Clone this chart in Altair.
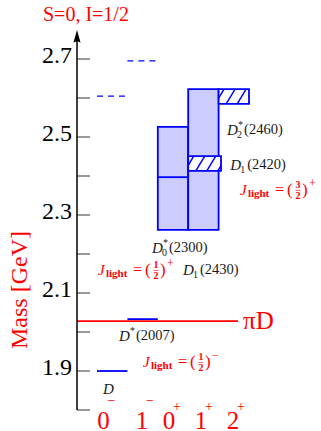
import altair as alt
import pandas as pd

# ---------------- data ----------------
spin = ["0", "1", "0", "1", "2"]
parity = ["\u2212", "\u2212", "+", "+", "+"]
spin_pos = [0.21, 1.48, 2.37, 3.42, 4.47]

mass_ticks = [1.8, 1.9, 2.0, 2.1, 2.2, 2.3, 2.4, 2.5, 2.6, 2.7]
mass_labels = ["1.9", "2.1", "2.3", "2.5", "2.7"]

band_col = [2, 3]
band_lo = [2.262, 2.262]
band_hi = [2.526, 2.623]

hatch_c0 = [3.0, 4.0]
hatch_c1 = [4.08, 5.0]
hatch_lo = [2.413, 2.585]
hatch_hi = [2.451, 2.623]

level_col = [0, 1, 2]
level_mass = [1.900, 2.033, 2.397]

dash_col = [0, 1]
dash_mass = [2.605, 2.695]

thr_mass = 2.028
thr_end = 4.64
thr_label = "\u03c0D"

name_main = ["D", "D", "D", "D", "D", "D"]
name_sup = ["", "*", "*", "", "*", ""]
name_sub = ["", "", "0", "1", "2", "1"]
name_rest = ["", "(2007)", "(2300)", "(2430)", "(2460)", "(2420)"]
name_x = [0.20, 0.72, 1.81, 2.83, 4.28, 4.38]
name_y = [1.854, 1.990, 2.215, 2.159, 2.518, 2.428]

j_num = ["1", "1", "3"]
j_den = ["2", "2", "2"]
j_sign = ["\u2212", "+", "+"]
j_x = [1.51, 0.03, 4.70]
j_y = [1.923, 2.159, 2.364]

title_text = "S=0, I=1/2"
axis_title = "Mass [GeV]"

# ---------------- layout / style ----------------
W, H = 240, 380
XPU, YPU = 30.4, 390.0
XDOM = [-20 / XPU, (W - 20) / XPU]
YDOM = [1.8, 1.8 + H / YPU]
SERIF = "Liberation Serif"
BLUE = "#0000ff"
RED = "#ff0000"
INK = "#1a1a1a"

xs = alt.Scale(domain=XDOM, nice=False, zero=False)
ys = alt.Scale(domain=YDOM, nice=False, zero=False)


def X(f):
    return alt.X(f, type="quantitative", scale=xs, axis=None)


def Y(f):
    return alt.Y(f, type="quantitative", scale=ys, axis=None)


# bands
bands = pd.DataFrame({"c0": band_col, "c1": [c + 1 for c in band_col], "lo": band_lo, "hi": band_hi})
band_layer = alt.Chart(bands).mark_rect(fill="#ccccff", stroke=BLUE, strokeWidth=1.8).encode(
    x=X("c0"), x2="c1", y=Y("lo"), y2="hi")

# hatched boxes
hbox = pd.DataFrame({"c0": hatch_c0, "c1": hatch_c1, "lo": hatch_lo, "hi": hatch_hi})
hbox_layer = alt.Chart(hbox).mark_rect(fill="white", stroke=BLUE, strokeWidth=1.8).encode(
    x=X("c0"), x2="c1", y=Y("lo"), y2="hi")


def hatch(c0, c1, lo, hi, gap=11.0, k=0.6):
    wp = (c1 - c0) * XPU
    hp = (hi - lo) * YPU
    rows = []
    t = -k * hp + gap / 2
    while t < wp:
        ylo = max(0.0, -t / k)
        yhi = min(hp, (wp - t) / k)
        if yhi > ylo:
            rows.append({"hx0": c0 + (t + k * ylo) / XPU, "hx1": c0 + (t + k * yhi) / XPU,
                         "hy0": lo + ylo / YPU, "hy1": lo + yhi / YPU})
        t += gap
    return rows


hrows = []
for a, b, lo, hi in zip(hatch_c0, hatch_c1, hatch_lo, hatch_hi):
    hrows += hatch(a, b, lo, hi)
hatch_layer = alt.Chart(pd.DataFrame(hrows)).mark_rule(color=BLUE, strokeWidth=1.5).encode(
    x=X("hx0"), x2="hx1", y=Y("hy0"), y2="hy1")

# levels
levels = pd.DataFrame({"c0": level_col, "c1": [c + 1 for c in level_col], "m": level_mass})
level_layer = alt.Chart(levels).mark_rule(color=BLUE, strokeWidth=1.8).encode(
    x=X("c0"), x2="c1", y=Y("m"))

dashes = pd.DataFrame({"c0": dash_col, "c1": [c + 1 for c in dash_col], "m": dash_mass})
dash_layer = alt.Chart(dashes).mark_rule(color=BLUE, strokeWidth=1.2, strokeDash=[6, 5]).encode(
    x=X("c0"), x2="c1", y=Y("m"))

# threshold
thr = pd.DataFrame({"c0": [XDOM[0]], "c1": [thr_end], "m": [thr_mass], "t": [thr_label]})
thr_layer = alt.Chart(thr).mark_rule(color=RED, strokeWidth=1.8).encode(
    x=X("c0"), x2="c1", y=Y("m"))
thr_text = alt.Chart(thr).mark_text(align="left", baseline="middle", font=SERIF, fontSize=25,
                                    color=RED, dx=5).encode(x=X("c1"), y=Y("m"), text="t:N")

# axis line, arrow, ticks, labels, title
ax = pd.DataFrame({"y0": [YDOM[0]], "y1": [YDOM[1] - 6 / YPU], "ya": [YDOM[1] - 8 / YPU],
                   "t": [axis_title]})
axis_line = alt.Chart(ax).mark_rule(color="black", strokeWidth=1.5).encode(
    x=alt.value(0), y=Y("y0"), y2="y1")
arrow = alt.Chart(ax).mark_point(shape="M0,-1L0.45,0.6Q0,0.25,-0.45,0.6Z", filled=True, size=256,
                                 color="black", opacity=1).encode(x=alt.value(0), y=Y("ya"))
ticks = alt.Chart(pd.DataFrame({"m": mass_ticks})).mark_rule(color="#333333", strokeWidth=1).encode(
    x=alt.value(0), x2=alt.value(13), y=Y("m"))
ylab = pd.DataFrame({"m": [float(v) for v in mass_labels], "t": mass_labels})
ylabels = alt.Chart(ylab).mark_text(align="right", baseline="middle", font=SERIF, fontSize=24,
                                    color="black", dy=-3).encode(
    x=alt.value(-5), y=Y("m"), text="t:N")
ytitle = alt.Chart(ax).mark_text(align="center", baseline="middle", font=SERIF, fontSize=24,
                                 color=RED, angle=270).encode(
    x=alt.value(-57), y=alt.value(260), text="t:N")

# x labels
xl = pd.DataFrame({"p": spin_pos, "s": spin, "q": parity})
xl_digit = alt.Chart(xl).mark_text(align="center", baseline="middle", font=SERIF, fontSize=25,
                                   color=RED, dy=11).encode(x=X("p"), y=alt.value(H), text="s:N")
xl_minus = alt.Chart(xl).transform_filter("datum.q != '+'").mark_text(
    align="center", baseline="middle", font=SERIF, fontSize=14, color=RED, dx=8, dy=-9).encode(
    x=X("p"), y=alt.value(H), text="q:N")
xl_plus = alt.Chart(xl).transform_filter("datum.q == '+'").mark_text(
    align="center", baseline="middle", font=SERIF, fontSize=14, color=RED, dx=8, dy=-3).encode(
    x=X("p"), y=alt.value(H), text="q:N")

# state names
nm = pd.DataFrame({"x": name_x, "y": name_y, "main": name_main, "sup": name_sup,
                   "sub": name_sub, "rest": name_rest})
nb = alt.Chart(nm).encode(x=X("x"), y=Y("y"))
n_main = nb.mark_text(align="left", baseline="middle", font=SERIF, fontSize=15, fontStyle="italic",
                      color=INK).encode(text="main:N")
n_sup = nb.mark_text(align="left", baseline="middle", font=SERIF, fontSize=10, color=INK,
                     dx=11, dy=-5).encode(text="sup:N")
n_sub = nb.mark_text(align="left", baseline="middle", font=SERIF, fontSize=10, color=INK,
                     dx=10, dy=5).encode(text="sub:N")
n_rest = nb.mark_text(align="left", baseline="middle", font=SERIF, fontSize=14.5, color=INK,
                      dx=17).encode(text="rest:N")

# J_light labels
jd = pd.DataFrame({"x": j_x, "y": j_y, "J": ["J"] * 3, "l": ["light"] * 3, "eq": ["="] * 3,
                   "lp": ["("] * 3, "rp": [")"] * 3, "bar": ["\u2013"] * 3,
                   "num": j_num, "den": j_den, "sg": j_sign})
jb = alt.Chart(jd).encode(x=X("x"), y=Y("y"))
jt = dict(baseline="middle", font=SERIF, color=RED)
j_layers = [
    jb.mark_text(align="left", fontSize=15, fontStyle="italic", **jt).encode(text="J:N"),
    jb.mark_text(align="left", fontSize=11, fontWeight="bold", dx=8, dy=4, **jt).encode(text="l:N"),
    jb.mark_text(align="left", fontSize=16, dx=35, **jt).encode(text="eq:N"),
    jb.mark_text(align="left", fontSize=17, dx=47, **jt).encode(text="lp:N"),
    jb.mark_text(align="center", fontSize=10, fontWeight="bold", dx=58, dy=-5, **jt).encode(text="num:N"),
    jb.mark_text(align="center", fontSize=10, dx=58, dy=0, **jt).encode(text="bar:N"),
    jb.mark_text(align="center", fontSize=10, fontWeight="bold", dx=58, dy=6, **jt).encode(text="den:N"),
    jb.mark_text(align="left", fontSize=17, dx=62, **jt).encode(text="rp:N"),
    jb.mark_text(align="left", fontSize=12, dx=69, dy=-7, **jt).encode(text="sg:N"),
]

# title
title_layer = alt.Chart(pd.DataFrame({"t": [title_text]})).mark_text(
    align="left", baseline="alphabetic", font=SERIF, fontSize=20, color=RED).encode(
    x=alt.value(-34), y=alt.value(-9), text="t:N")

chart = alt.layer(
    band_layer, hbox_layer, hatch_layer, thr_layer, level_layer, dash_layer,
    ticks, axis_line, arrow, ylabels, ytitle, thr_text,
    xl_digit, xl_minus, xl_plus,
    n_main, n_sup, n_sub, n_rest,
    *j_layers, title_layer,
).properties(
    width=W, height=H,
    padding={"left": 77, "top": 30, "right": 4, "bottom": 21},
    autosize=alt.AutoSizeParams(type="none"),
    background="white",
).configure_view(stroke=None)

chart.save("out.html", embed_options={"renderer": "svg", "actions": False})
